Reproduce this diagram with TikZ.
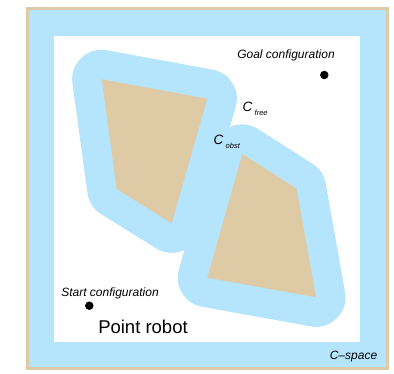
\documentclass[tikz,border=0pt]{standalone}
\usepackage{fontspec}
\setmainfont{Liberation Sans}
\definecolor{cblue}{RGB}{181,229,252}
\definecolor{ctan}{RGB}{222,203,166}
\begin{document}
\begin{tikzpicture}[x=1pt,y=-1pt,
  lbl/.style={inner sep=0pt,font=\fontsize{12}{14}\selectfont\itshape},
  blackdot/.style={circle,fill=black,inner sep=0pt,minimum size=8.5pt},
  grownregion/.style={fill=cblue,draw=cblue,line width=59pt,line join=round},
  obstfill/.style={fill=ctan}]
\useasboundingbox (0,0) rectangle (394,374);
% C-space frame
\draw[fill=cblue,draw=ctan,line width=2.7pt] (27.3,8.7) rectangle (387.4,368.7);
\fill[white] (54,36) rectangle (360,342);
% grown obstacles (Minkowski sum with disk)
\path[grownregion] (101.7,79.3) -- (207.3,98.7) -- (171.7,223.3) -- (116.7,189) -- cycle;
\path[grownregion] (242.3,154) -- (296.7,188.7) -- (316,297.3) -- (207.3,277.7) -- cycle;
% obstacles
\path[obstfill] (101.7,79.3) -- (207.3,98.7) -- (171.7,223.3) -- (116.7,189) -- cycle;
\path[obstfill] (242.3,154) -- (296.7,188.7) -- (316,297.3) -- (207.3,277.7) -- cycle;
% labels
\node[lbl] (goal) at (286,55.5) {Goal configuration};
\node[blackdot] (goaldot) at (324.3,75) {};
\node[lbl] (start) at (110,293.5) {Start configuration};
\node[blackdot] (startdot) at (89.3,305.7) {};
\node[inner sep=0pt,font=\fontsize{18.5}{20}\selectfont] (robot) at (143,327) {Point robot};
\node[lbl] (cspace) at (353.5,356.5) {C–space};
\node[inner sep=0pt,font=\fontsize{13.5}{15}\selectfont\itshape,anchor=west] (cfree) at (242.5,109) {C\,\raisebox{-0.55ex}{\fontsize{7.5}{8}\selectfont free}};
\node[inner sep=0pt,font=\fontsize{13.5}{15}\selectfont\itshape,anchor=west] (cobst) at (213.5,141.5) {C\,\raisebox{-0.55ex}{\fontsize{7.5}{8}\selectfont obst}};
\end{tikzpicture}
\end{document}
